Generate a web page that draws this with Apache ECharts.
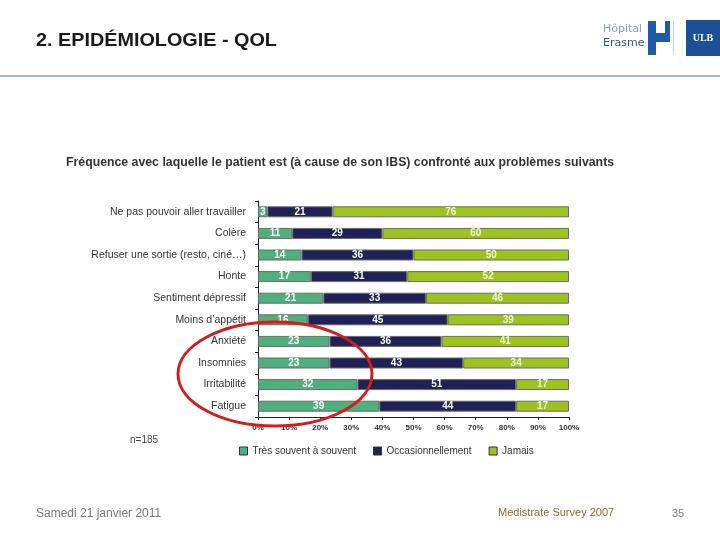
<!DOCTYPE html>
<html><head><meta charset="utf-8">
<script src="https://cdn.jsdelivr.net/npm/echarts@6/dist/echarts.min.js"></script>
<style>html,body{margin:0;padding:0;background:#fff}#c{width:720px;height:540px}</style>
</head><body><div id="c"></div>
<script>
const categories = ["Ne pas pouvoir aller travailler","Colère","Refuser une sortie (resto, ciné…)","Honte","Sentiment dépressif","Moins d’appétit","Anxiété","Insomnies","Irritabilité","Fatigue"];
const tresSouvent = [3,11,14,17,21,16,23,23,32,39];
const occasionnellement = [21,29,36,31,33,45,36,43,51,44];
const jamais = [76,60,50,52,46,39,41,34,17,17];
const seriesNames = ["Très souvent à souvent","Occasionnellement","Jamais"];
const xTicks = [0,10,20,30,40,50,60,70,80,90,100];

const chart = echarts.init(document.getElementById('c'), null, {renderer:'canvas'});
const colors = ['#4fb07e','#1f2257','#9cc31e'];
const lblColors = ['#ffffff','#ffffff','#f4f6d8'];
const vals = [tresSouvent, occasionnellement, jamais];
const series = vals.map((v,i)=>({
  name: seriesNames[i], type:'bar', stack:'s', barWidth:11,
  data: v,
  itemStyle:{color:colors[i], borderColor:'#6b6b6b', borderWidth:1},
  label:{show:true, position:'inside', color:lblColors[i], fontWeight:'bold', fontSize:10, fontFamily:'Liberation Sans'}
}));

chart.setOption({
  animation:false,
  textStyle:{fontFamily:'Liberation Sans'},
  grid:{left:258, right:151, top:201, bottom:123, containLabel:false},
  legend:{
    bottom:79, left:234, itemWidth:8, itemHeight:8, itemGap:17,
    textStyle:{fontSize:10, color:'#333', fontFamily:'Liberation Sans'},
    icon:'rect',
    data: seriesNames.map((n,i)=>({name:n, itemStyle:{borderColor:'#333', borderWidth:1}}))
  },
  xAxis:{type:'value', min:0, max:100, interval:10,
    axisLine:{show:true, lineStyle:{color:'#222'}},
    axisTick:{show:true, length:3, lineStyle:{color:'#222'}},
    splitLine:{show:false},
    axisLabel:{formatter:v=>v+'%', fontSize:8, fontWeight:'bold', color:'#333', margin:7}
  },
  yAxis:{type:'category', data:categories, inverse:true,
    axisLine:{show:true, lineStyle:{color:'#222'}},
    axisTick:{show:true, length:3, alignWithLabel:false, lineStyle:{color:'#222'}},
    axisLabel:{fontSize:10.5, color:'#333', margin:12}
  },
  series: series,
  graphic:[
    {type:'text', x:36, y:32, scaleX:1.1, style:{text:'2. EPIDÉMIOLOGIE - QOL', font:'bold 18px "Liberation Sans"', fill:'#1a1a1a'}},
    {type:'rect', shape:{x:0,y:75,width:720,height:2}, style:{fill:'#a5b8cf'}},
    {type:'text', left:603, top:24, style:{text:'Hôpital', font:'11px "DejaVu Sans"', fill:'#8aa0b8'}},
    {type:'text', left:603, top:38, style:{text:'Erasme', font:'11px "DejaVu Sans"', fill:'#2b5a98'}},
    {type:'rect', shape:{x:648,y:21,width:8,height:34}, style:{fill:'#1f5ba3'}},
    {type:'rect', shape:{x:656,y:33,width:14,height:9}, style:{fill:'#1f5ba3'}},
    {type:'rect', shape:{x:665,y:21,width:5,height:21}, style:{fill:'#1f5ba3'}},
    {type:'rect', shape:{x:673,y:21,width:1,height:34}, style:{fill:'#c8d0da'}},
    {type:'rect', shape:{x:686,y:20,width:34,height:36}, style:{fill:'#1d4f96'}},
    {type:'text', x:703, y:38, style:{text:'ULB', font:'bold 10px "Liberation Serif"', fill:'#fff', align:'center', verticalAlign:'middle'}},
    {type:'text', left:66, top:157, style:{text:'Fréquence avec laquelle le patient est (à cause de son IBS) confronté aux problèmes suivants', font:'bold 12.3px "Liberation Sans"', fill:'#333'}},
    {type:'text', left:130, top:435, style:{text:'n=185', font:'10px "Liberation Sans"', fill:'#444'}},
    {type:'ellipse', shape:{cx:275, cy:374, rx:97, ry:52}, style:{fill:null, stroke:'#d41c1c', lineWidth:3}, z:100},
    {type:'text', left:36, top:508, style:{text:'Samedi 21 janvier 2011', font:'12px "Liberation Sans"', fill:'#777'}},
    {type:'text', left:498, top:507, style:{text:'Medistrate Survey 2007', font:'11px "Liberation Sans Narrow", "Liberation Sans"', fill:'#8a6a2c'}},
    {type:'text', left:672, top:508, style:{text:'35', font:'11px "Liberation Sans"', fill:'#777'}}
  ]
});
</script></body></html>
